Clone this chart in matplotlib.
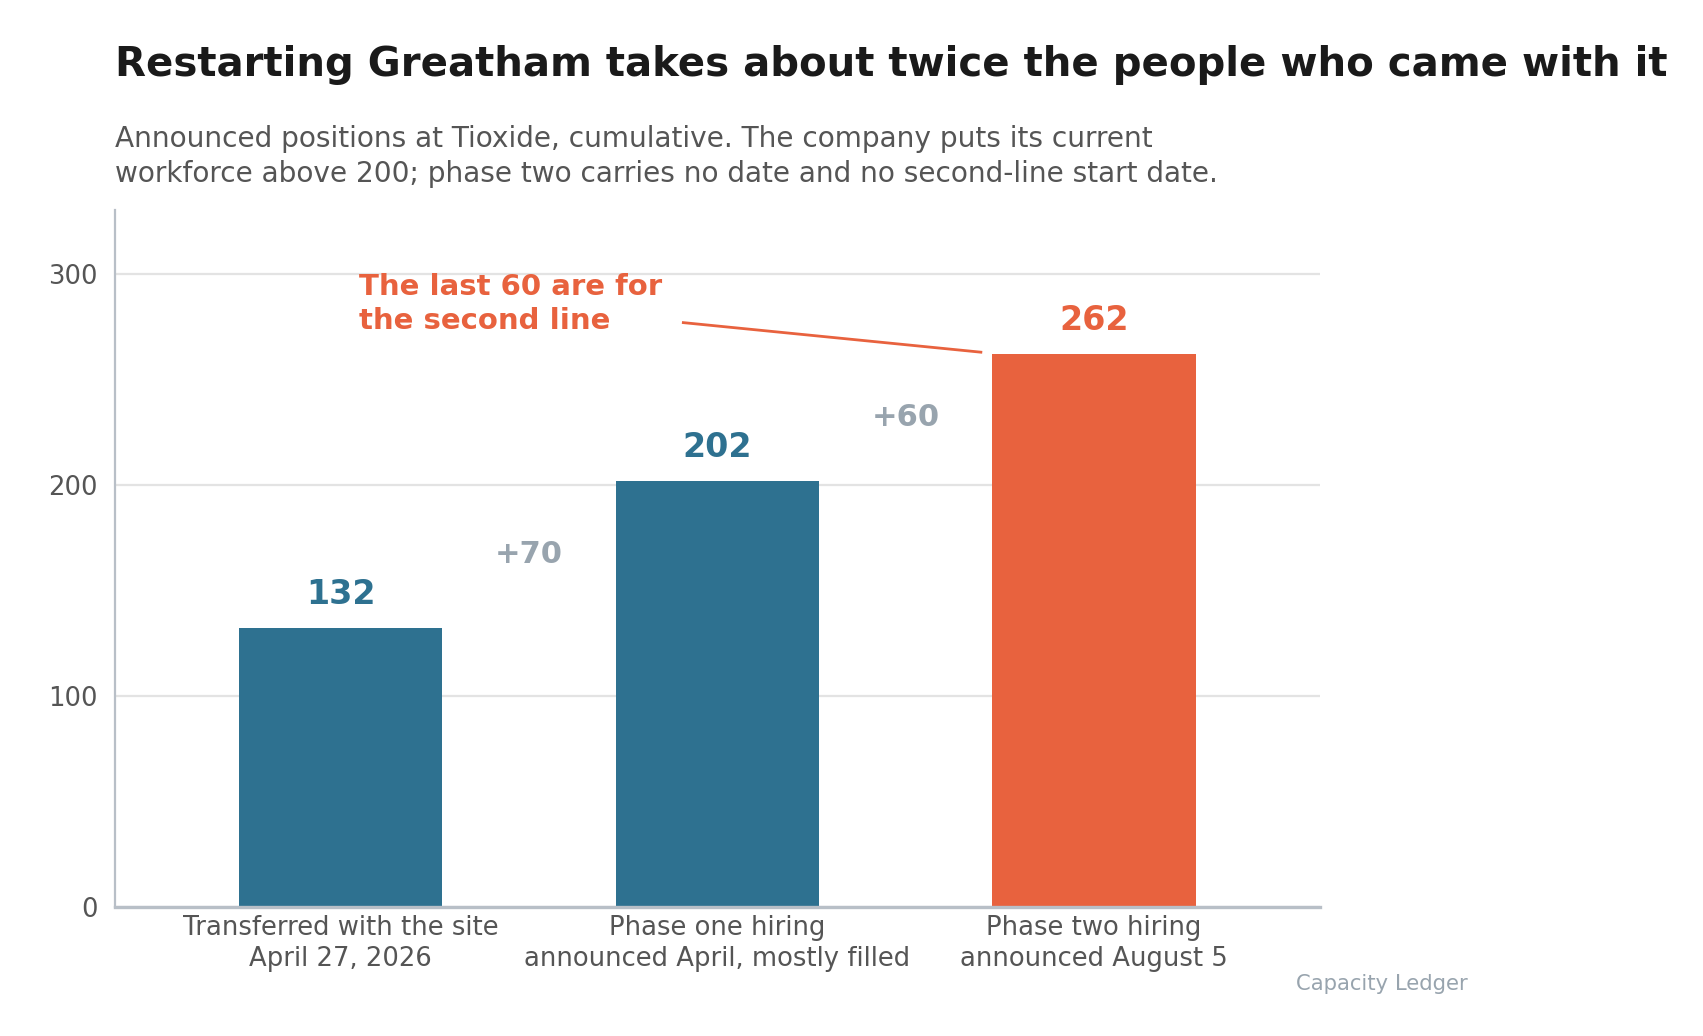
import matplotlib
matplotlib.use("Agg")
import matplotlib.pyplot as plt

# data
categories = ["Transferred with the site\nApril 27, 2026",
              "Phase one hiring\nannounced April, mostly filled",
              "Phase two hiring\nannounced August 5"]
positions = [132, 202, 262]
increments = ["+70", "+60"]

BLUE = "#2E7190"
ORANGE = "#E8623E"
GREY = "#98A4AE"
TEXT = "#555555"
colors = [BLUE, BLUE, ORANGE]

fig = plt.figure(figsize=(8.515, 5.18), dpi=200)
ax = fig.add_axes([0.0673, 0.1245, 0.7077, 0.6725])

x = list(range(len(categories)))
ax.bar(x, positions, width=0.54, color=colors, zorder=2)

for xi, v, c in zip(x, positions, colors):
    ax.text(xi, v + 8, str(v), ha="center", va="bottom", fontsize=12,
            fontweight="bold", color=c)

# step labels between bars, at the midpoint of the two bar tops
for i, lab in enumerate(increments):
    ax.text(x[i] + 0.5, (positions[i] + positions[i + 1]) / 2, lab,
            ha="center", va="center", fontsize=11, fontweight="bold", color=GREY)

# annotation
ax.text(0.05, 300.5, "The last 60 are for\nthe second line", ha="left", va="top",
        fontsize=10.5, fontweight="bold", color=ORANGE, linespacing=1.3)
ax.plot([0.91, 1.70], [276.8, 262.8], color=ORANGE, lw=1.0)

ax.set_xlim(-0.6, 2.6)
ax.set_ylim(0, 330)
ax.set_yticks([0, 100, 200, 300])
ax.set_xticks(x)
ax.set_xticklabels(categories, linespacing=1.25)
ax.tick_params(axis="both", length=0, labelsize=9.3, colors=TEXT)
ax.tick_params(axis="x", pad=3)
ax.tick_params(axis="y", pad=6)
ax.yaxis.grid(True, color="#E3E3E3", lw=0.8, zorder=0)
ax.set_axisbelow(True)
for s in ["top", "right"]:
    ax.spines[s].set_visible(False)
ax.spines["left"].set_color("#B8BFC7")
ax.spines["left"].set_linewidth(0.8)
ax.spines["bottom"].set_color("#B8BFC7")
ax.spines["bottom"].set_linewidth(1.2)

fig.text(0.0673, 0.957, "Restarting Greatham takes about twice the people who came with it",
         ha="left", va="top", fontsize=14.5, fontweight="bold", color="#1A1A1A")
fig.text(0.0673, 0.879,
         "Announced positions at Tioxide, cumulative. The company puts its current\n"
         "workforce above 200; phase two carries no date and no second-line start date.",
         ha="left", va="top", fontsize=10.1, color=TEXT, linespacing=1.3)
fig.text(0.862, 0.05, "Capacity Ledger", ha="right", va="center", fontsize=7.6, color=GREY)

fig.savefig("out.png", dpi=200)
